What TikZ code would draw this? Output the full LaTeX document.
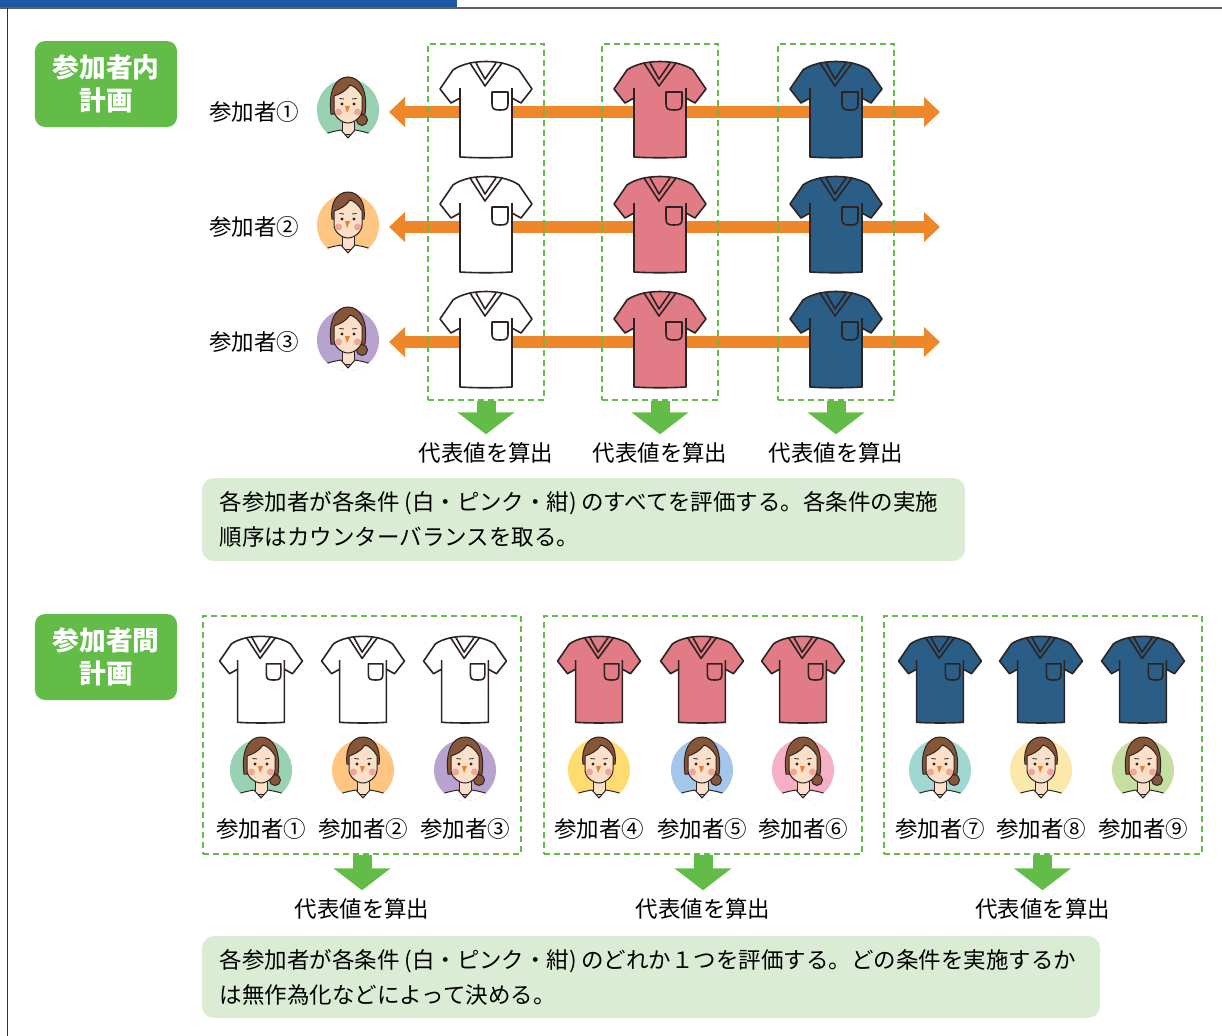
\documentclass[tikz,border=0pt]{standalone}
\usepackage{fontspec}
\setmainfont{Noto Sans CJK JP}
\usetikzlibrary{arrows.meta, positioning}
\definecolor{bandblue}{RGB}{26, 88, 166}
\definecolor{framegray}{RGB}{95, 95, 95}
\definecolor{leafgreen}{RGB}{99, 187, 72}
\definecolor{notegreen}{RGB}{218, 236, 211}
\definecolor{flow}{RGB}{238, 134, 42}
\definecolor{inkline}{RGB}{45, 35, 35}
\definecolor{scrubwhite}{RGB}{255, 255, 255}
\definecolor{scrubpink}{RGB}{225, 123, 133}
\definecolor{scrubnavy}{RGB}{43, 94, 134}
\definecolor{hair}{RGB}{135, 86, 56}
\definecolor{skin}{RGB}{250, 224, 200}
\definecolor{cheek}{RGB}{240, 165, 150}
\definecolor{nose}{RGB}{240, 125, 45}
\definecolor{bgmint}{RGB}{152, 210, 178}
\definecolor{bgorange}{RGB}{255, 197, 130}
\definecolor{bgviolet}{RGB}{184, 162, 207}
\definecolor{bgyellow}{RGB}{255, 219, 112}
\definecolor{bgsky}{RGB}{163, 198, 234}
\definecolor{bgrose}{RGB}{246, 176, 197}
\definecolor{bgteal}{RGB}{160, 215, 210}
\definecolor{bgcream}{RGB}{252, 232, 170}
\definecolor{bglime}{RGB}{196, 223, 161}
\tikzset{
    planlabel/.style={rectangle, rounded corners=2.5mm, fill=leafgreen, text=white, minimum width=35.5mm, minimum height=21.5mm, align=center, font=\fontsize{19pt}{23.5pt}\selectfont\bfseries},
    condbox/.style={rectangle, draw=leafgreen, line width=0.5mm, dash pattern=on 1.5mm off 1mm},
    tag/.style={inner sep=0pt, font=\fontsize{16pt}{16pt}\selectfont},
    note/.style={rectangle, rounded corners=3mm, fill=notegreen, align=left, inner xsep=4.5mm, font=\fontsize{16pt}{25pt}\selectfont},
    flowarrow/.style={line width=3.1mm, flow, arrows={Triangle[width=7.25mm,length=4mm]-Triangle[width=7.25mm,length=4mm]}},
    downarrow/.style={line width=4.75mm, leafgreen, shorten >=2mm, arrows={-Triangle[width=14mm,length=5.5mm]}},
    pics/scrub/.style={code={
        \filldraw[fill=#1, draw=inkline, line width=0.4mm, line join=round]
            (-16,-47) .. controls (-24,-45) and (-29,-43) .. (-33,-40)
            -- (-46,-21) -- (-35,-7) -- (-26,-12) -- (-26,47)
            .. controls (-10,48) and (10,48) .. (26,47)
            -- (26,-12) -- (35,-7) -- (46,-21) -- (33,-40)
            .. controls (29,-43) and (24,-45) .. (16,-47)
            .. controls (5,-49) and (-5,-49) .. (-16,-47) -- cycle;
        \draw[inkline, line width=0.4mm, line join=round]
            (-16,-47) -- (-1,-24) -- (16,-47)
            (-10,-47) -- (-1,-31) -- (10,-47)
            (-26,-12) -- (-26,-22) (26,-12) -- (26,-22)
            (6,-18) -- (6,-6) .. controls (6,-1) and (8,0) .. (14,0)
            .. controls (20,0) and (22,-1) .. (22,-6) -- (22,-18) -- cycle;
    }},
    % #1 background, #2 = 1 for the long hair with a bun
    pics/avatar/.style 2 args={code={
        \path[fill=#1] (0,0) circle (31);
        \begin{scope}
            \clip (0,0) circle (31);
            \filldraw[fill=skin, draw=inkline, line width=0.25mm] (-6,8) rectangle (6,24);
            \filldraw[fill=white, draw=inkline, line width=0.25mm, line join=round]
                (-36,42) -- (-30,27) .. controls (-20,22) and (-12,21) .. (-7,20)
                -- (0,28) -- (7,20) .. controls (12,21) and (20,22) .. (30,27) -- (36,42) -- cycle;
        \end{scope}
        \ifnum#2=1
            \filldraw[fill=hair, draw=inkline, line width=0.25mm]
                (-17,4) .. controls (-20,-20) and (-12,-33) .. (0,-33)
                .. controls (12,-33) and (20,-20) .. (17,4) -- cycle;
            \filldraw[fill=hair, draw=inkline, line width=0.25mm] (14,10) circle (5.5);
        \else
            \filldraw[fill=hair, draw=inkline, line width=0.25mm]
                (-16,-6) .. controls (-18,-22) and (-11,-33) .. (0,-33)
                .. controls (11,-33) and (18,-22) .. (16,-6) -- cycle;
        \fi
        \filldraw[fill=skin, draw=inkline, line width=0.25mm]
            (-14,-14) -- (-14,0) .. controls (-14,7) and (-6,13) .. (0,13)
            .. controls (6,13) and (14,7) .. (14,0) -- (14,-14)
            .. controls (11,-20) and (6,-24) .. (2,-25)
            .. controls (-2,-19) and (-8,-16) .. (-14,-14) -- cycle;
        \fill[cheek] (-9.5,2) circle (3.5) (9.5,2) circle (3.5);
        \fill[inkline] (-6,-6) circle (1.6) (6,-6) circle (1.6);
        \draw[inkline, line width=0.2mm] (-8.5,-11.5) -- (-4,-11) (4,-11) -- (8.5,-11.5);
        \fill[nose] (-3,-4) -- (2,-4) -- (-1,3) -- cycle;
    }}
}
\begin{document}
\begin{tikzpicture}[x=0.25mm, y=-0.25mm]
    \useasboundingbox (0,0) rectangle (1222,1036);
    % page frame
    \fill[bandblue] (0,0) rectangle (457,7.5);
    \draw[framegray, line width=0.4mm] (0,8) -- (1222,8);
    \draw[framegray!50!black, line width=0.35mm] (7.5,8) -- (7.5,1036);

    % Within-participants plan
    \node[planlabel] (h1) at (106,84) {参加者内\\計画};

    % one row per participant, the arrow runs through all conditions
    \foreach \r/\y/\bg/\bun/\num in {1/112/bgmint/1/①, 2/227/bgorange/0/②, 3/342/bgviolet/1/③} {
        \node[tag] (p\r) at (254,\y) {参加者\num};
        \pic at (348,\y-2) {avatar={\bg}{\bun}};
        \coordinate (west\r) at (389,\y);
        \coordinate (east\r) at (940,\y);
        \draw[flowarrow] (west\r) -- (east\r);
    }

    % condition columns
    \foreach \c/\x/\col in {1/486/scrubwhite, 2/660/scrubpink, 3/836/scrubnavy} {
        \foreach \y in {110,225,340}
            \pic at (\x,\y) {scrub=\col};
        \node[condbox, minimum width=29mm, minimum height=89mm] (k\c) at (\x,222) {};
        \node[tag] (r\c) at (\x,453) {代表値を算出};
        \draw[downarrow] (k\c.south) -- (r\c);
    }

    \node[note, text width=181.75mm, minimum height=20.75mm] (n1) at (583.5,519.5) {各参加者が各条件\hspace{0.2em}(白・ピンク・紺)\hspace{0.2em}のすべてを評価する。各条件の実施\\順序はカウンターバランスを取る。};

    % Between-participants plan
    \node[planlabel] (h2) at (106,657) {参加者間\\計画};

    \foreach \c/\x in {1/362, 2/703, 3/1042.5} {
        \node[condbox, minimum width=79.5mm, minimum height=59.5mm] (g\c) at (\x,735) {};
        \node[tag] (s\c) at (\x,909) {代表値を算出};
        \draw[downarrow] (g\c.south) -- (s\c);
    }

    \foreach \n/\x/\col/\bg/\bun/\num in {1/261/scrubwhite/bgmint/1/①, 2/363/scrubwhite/bgorange/0/②, 3/465/scrubwhite/bgviolet/1/③,
                                          4/599/scrubpink/bgyellow/0/④, 5/702/scrubpink/bgsky/1/⑤, 6/803/scrubpink/bgrose/1/⑥,
                                          7/940/scrubnavy/bgteal/1/⑦, 8/1041/scrubnavy/bgcream/0/⑧, 9/1143/scrubnavy/bglime/1/⑨} {
        \pic[scale=0.9] at (\x,680) {scrub=\col};
        \pic at (\x,770) {avatar={\bg}{\bun}};
        \node[tag] (q\n) at (\x,829) {参加者\num};
    }

    \node[note, text width=215.5mm, minimum height=20.5mm] (n2) at (651,977) {各参加者が各条件\hspace{0.2em}(白・ピンク・紺)\hspace{0.2em}のどれか１つを評価する。どの条件を実施するか\\は無作為化などによって決める。};
\end{tikzpicture}
\end{document}
